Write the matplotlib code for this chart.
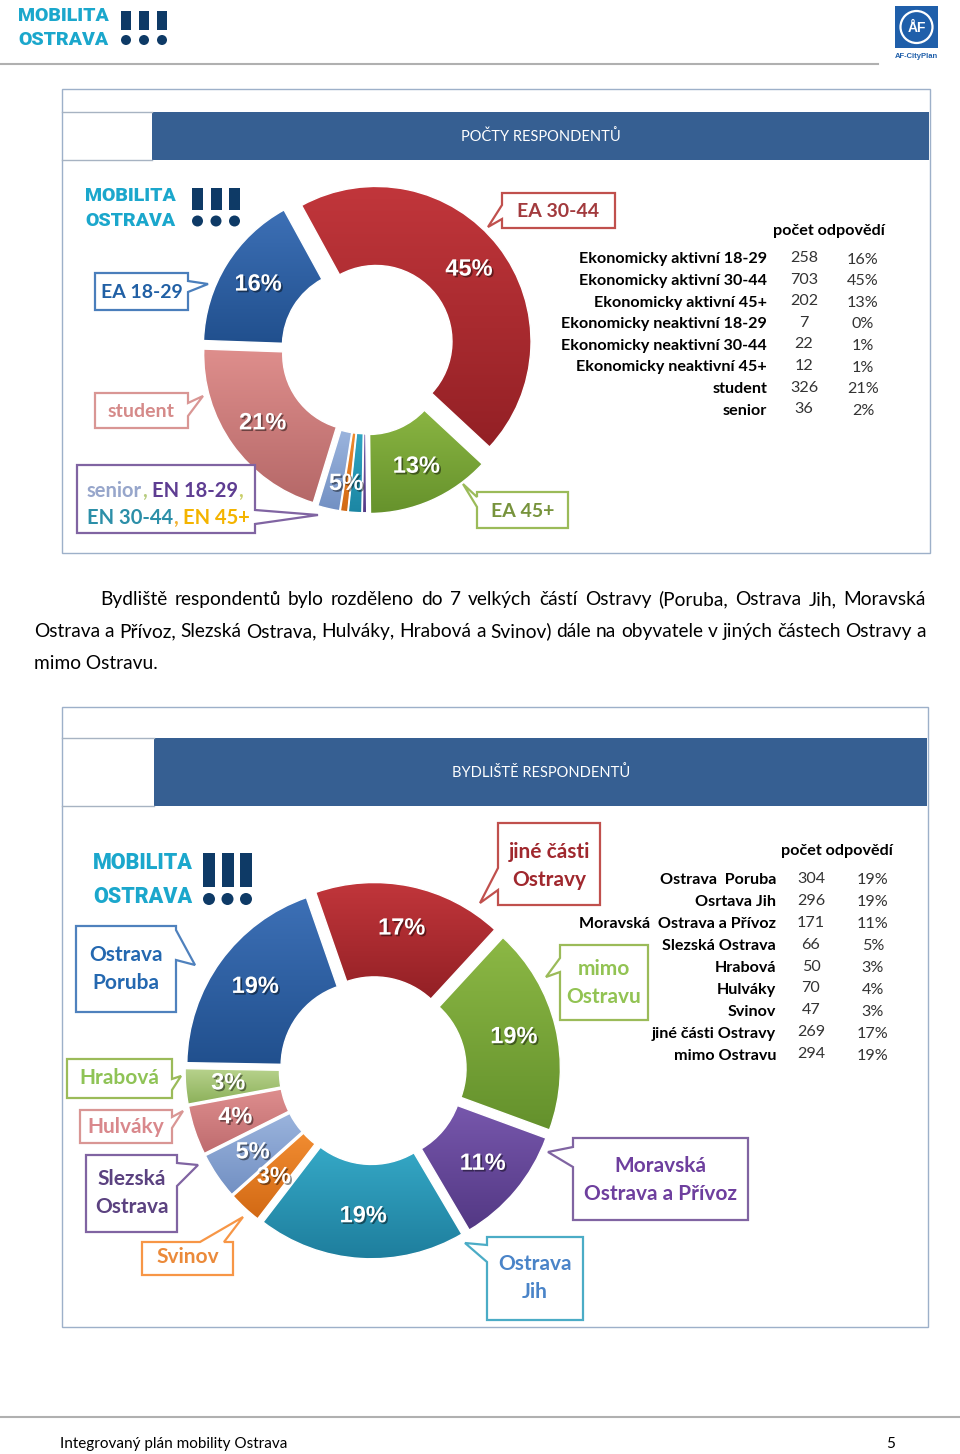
import matplotlib
matplotlib.use("Agg")
import matplotlib.pyplot as plt
import matplotlib.patheffects as pe
from matplotlib.patches import Rectangle, Polygon, Circle
from matplotlib.colors import LinearSegmentedColormap
import numpy as np

# ---------------- data: POČTY RESPONDENTŮ ----------------
resp_labels = ['Ekonomicky aktivní 18-29', 'Ekonomicky aktivní 30-44', 'Ekonomicky aktivní 45+',
               'Ekonomicky neaktivní 18-29', 'Ekonomicky neaktivní 30-44', 'Ekonomicky neaktivní 45+',
               'student', 'senior']
resp_counts = [258, 703, 202, 7, 22, 12, 326, 36]
resp_pct = ['16%', '45%', '13%', '0%', '1%', '1%', '21%', '2%']
resp_order = [0, 1, 2, 3, 4, 5, 7, 6]      # clockwise order in the ring
resp_ring = [0, 1, 2, 6]                   # slices with their own label
resp_small = [3, 4, 5, 7]                  # labelled together
resp_small_pct = '5%'

# ---------------- data: BYDLIŠTĚ RESPONDENTŮ ----------------
home_labels = ['Ostrava  Poruba', 'Osrtava Jih', 'Moravská  Ostrava a Přívoz', 'Slezská Ostrava',
               'Hrabová', 'Hulváky', 'Svinov', 'jiné části Ostravy', 'mimo Ostravu']
home_counts = [304, 296, 171, 66, 50, 70, 47, 269, 294]
home_pct = ['19%', '19%', '11%', '5%', '3%', '4%', '3%', '17%', '19%']
home_order = [0, 7, 8, 2, 1, 6, 3, 5, 4]

# slice colours (top, bottom of gradient)
resp_colors = [('#3D70B6', '#21508E'), ('#C1363B', '#932025'), ('#8AB542', '#66922C'),
               ('#7159A8', '#553C88'), ('#30A5C2', '#1C86A3'), ('#EF8B2F', '#D26914'),
               ('#DE8E8C', '#B56868'), ('#9BB4DD', '#7290C3')]
home_colors = [('#3D70B6', '#21508E'), ('#35A8C6', '#1E7E9D'), ('#7757AC', '#533884'),
               ('#9BB4DD', '#7290C3'), ('#B8D38D', '#8CB05A'), ('#DE8E8E', '#BF6C6F'),
               ('#F18C31', '#D26914'), ('#C1363B', '#932025'), ('#8CB845', '#64912C')]

W, H = 960, 1454
fig = plt.figure(figsize=(W / 100, H / 100), dpi=100)
fig.patch.set_facecolor('white')

bg = fig.add_axes([0, 0, 1, 1], zorder=0)
bg.set_xlim(0, W); bg.set_ylim(H, 0); bg.axis('off')
ov = fig.add_axes([0, 0, 1, 1], zorder=5)
ov.set_xlim(0, W); ov.set_ylim(H, 0); ov.axis('off'); ov.patch.set_alpha(0)

renderer = fig.canvas.get_renderer()
CAL = 'Lato'
ARIAL = 'Liberation Sans'
shadow = [pe.SimplePatchShadow(offset=(1.2, -1.2), shadow_rgbFace='black', alpha=0.45), pe.Normal()]


def logo(x, y1, y2, fs, bx, bw, bstep, by0, by1, r, dy):
    for s, yy in (('MOBILITA', y1), ('OSTRAVA', y2)):
        bg.text(x, yy, s, fontsize=fs, fontweight='black', family='Roboto', color='#1BA7CC',
                va='center', ha='left')
    for k in range(3):
        bg.add_patch(Rectangle((bx + k * bstep, by0), bw, by1 - by0, color='#0E3A66', lw=0))
        bg.add_patch(Circle((bx + k * bstep + bw / 2, dy), r, color='#0E3A66', lw=0))


def donut(cx, cy, R, counts, order, colors, explode, start, width, lim=1.35):
    ax = fig.add_axes([(cx - lim * R) / W, (H - cy - lim * R) / H, 2 * lim * R / W, 2 * lim * R / H],
                      zorder=2)
    wedges, _ = ax.pie([counts[i] for i in order], startangle=start, counterclock=False,
                       explode=[explode[i] for i in order],
                       wedgeprops=dict(width=width, edgecolor='white', linewidth=1.0))
    for w, i in zip(wedges, order):
        top, bot = colors[i]
        bb = w.get_path().get_extents()
        cmap = LinearSegmentedColormap.from_list('g', [top, bot])
        im = ax.imshow(np.linspace(0, 1, 200).reshape(-1, 1), extent=[bb.x0, bb.x1, bb.y0, bb.y1],
                       origin='upper', cmap=cmap, aspect='auto', zorder=0.5)
        im.set_clip_path(w)
        w.set_facecolor('none')
        w.set_zorder(1)
    ax.set_xlim(-lim, lim); ax.set_ylim(-lim, lim); ax.axis('off')
    return ax, dict(zip(order, wedges))


def ring_label(ax, ws, text, d, fs):
    t1 = min(w.theta1 for w in ws)
    t2 = max(w.theta2 for w in ws)
    a = np.deg2rad((t1 + t2) / 2)
    c = np.mean([w.center for w in ws], axis=0)
    ax.text(c[0] + d * np.cos(a), c[1] + d * np.sin(a), text, ha='center', va='center',
            fontsize=fs, fontweight='bold', family=ARIAL, color='white', path_effects=shadow, zorder=3)


def callout(rect, side, a, b, tip, ec, lines=None, tc=None, ys=None, fs=13.5):
    x0, y0, x1, y1 = rect
    tx, ty = tip
    if side == 'left':
        pts = [(x0, y0), (x1, y0), (x1, y1), (x0, y1), (x0, b), (tx, ty), (x0, a)]
    elif side == 'right':
        pts = [(x0, y0), (x1, y0), (x1, a), (tx, ty), (x1, b), (x1, y1), (x0, y1)]
    else:
        pts = [(x0, y0), (a, y0), (tx, ty), (b, y0), (x1, y0), (x1, y1), (x0, y1)]
    ov.add_patch(Polygon(pts, closed=True, fc='white', ec=ec, lw=1.6, joinstyle='miter'))
    if lines:
        for s, yy in zip(lines, ys):
            ov.text((x0 + x1) / 2, yy + 6, s, ha='center', va='baseline', fontsize=fs,
                    fontweight='bold', family=CAL, color=tc)


def colored_line(x, y, segs, fs):
    for s, c, gap in segs:
        t = ov.text(x, y + 6, s, ha='left', va='baseline', fontsize=fs, fontweight='bold', family=CAL, color=c)
        x += t.get_window_extent(renderer).width + gap


def justify(x0, x1, y, line, fs):
    words = line.split()
    ts = [bg.text(0, y, w_, fontsize=fs, family=CAL, color='black', va='baseline') for w_ in words]
    widths = [t.get_window_extent(renderer).width for t in ts]
    gap = (x1 - x0 - sum(widths)) / (len(words) - 1)
    x = x0
    for t, wd in zip(ts, widths):
        t.set_x(x)
        x += wd + gap


def table(header_x, header_y, lab_x, num_x, pct_x, y0, step, labels, counts, pcts, fs):
    bg.text(header_x, header_y + 5.5, 'počet odpovědí', ha='center', va='baseline', fontsize=fs,
            fontweight='bold', family=CAL, color='black')
    for k, (lab, n, p) in enumerate(zip(labels, counts, pcts)):
        yy = y0 + k * step + 5.5
        bg.text(lab_x, yy, lab, ha='right', va='baseline', fontsize=fs, fontweight='bold',
                family=CAL, color='black')
        bg.text(num_x, yy - 1.5, str(n), ha='center', va='baseline', fontsize=fs, family=CAL, color='#333333')
        bg.text(pct_x, yy, p, ha='center', va='baseline', fontsize=fs, family=CAL, color='#333333')


# ---------------- page header / footer ----------------
logo(18, 16, 40, 14, 121, 10, 18, 11, 30, 5, 40)
bg.plot([0, 878], [64, 64], color='#B0B0B0', lw=1.5)
bg.add_patch(Rectangle((895, 6), 43, 42, color='#1F5FAA', lw=0))
bg.add_patch(Circle((916.5, 27), 16, fc='none', ec='white', lw=1.6))
bg.text(916.5, 28, 'ÅF', ha='center', va='center', color='white', fontsize=10, fontweight='bold', family=ARIAL)
bg.text(916.5, 56, 'AF-CityPlan', ha='center', va='center', color='#1F5FAA', fontsize=5.5,
        fontweight='bold', family=ARIAL)
bg.plot([0, 960], [1417, 1417], color='#B0B0B0', lw=1.5)
bg.text(60, 1448, 'Integrovaný plán mobility Ostrava', fontsize=11, family=CAL, va='baseline')
bg.text(886, 1448, '5', fontsize=11, family=CAL, va='baseline')

# ---------------- chart frames ----------------
for (fx0, fy0, fx1, fy1), (bx0, by0, by1), title in (
        ((62, 89, 930, 553), (152, 112, 160), 'POČTY RESPONDENTŮ'),
        ((62, 707, 928, 1327), (154, 738, 806), 'BYDLIŠTĚ RESPONDENTŮ')):
    bg.add_patch(Rectangle((fx0, fy0), fx1 - fx0, fy1 - fy0, fc='white', ec='#9DB0C9', lw=1.0))
    bg.add_patch(Rectangle((bx0, by0), fx1 - bx0 - 1, by1 - by0, color='#365F92', lw=0))
    bg.plot([fx0, bx0], [by0, by0], color='#A7B3C2', lw=1.0)
    bg.plot([fx0, bx0], [by1, by1], color='#A7B3C2', lw=1.0)
    bg.text((bx0 + fx1) / 2, (by0 + by1) / 2 + 5, title, ha='center', va='baseline', color='white',
            fontsize=10.5, family=CAL)

# ---------------- paragraph ----------------
justify(100, 926, 605, 'Bydliště respondentů bylo rozděleno do 7 velkých částí Ostravy (Poruba, Ostrava Jih, Moravská', 13.8)
justify(34, 926, 637, 'Ostrava a Přívoz, Slezská Ostrava, Hulváky, Hrabová a Svinov) dále na obyvatele v jiných částech Ostravy a', 13.8)
bg.text(34, 669, 'mimo Ostravu.', fontsize=13.8, family=CAL, va='baseline')

# ---------------- chart 1 ----------------
logo(85, 196, 221, 14, 192, 11, 18.5, 188, 210, 5.5, 221)
resp_explode = [0.05, 0.09, 0.06, 0.05, 0.05, 0.05, 0.05, 0.05]
ax1, w1 = donut(365, 350, 155, resp_counts, resp_order, resp_colors, resp_explode, -182, 0.51)
for i in resp_ring:
    ring_label(ax1, [w1[i]], resp_pct[i], 0.76, 17)
ring_label(ax1, [w1[i] for i in resp_small], resp_small_pct, 0.82, 17)

callout((95, 273, 188, 310), 'right', 281, 292, (208, 284), '#4A7EBB', ['EA 18-29'], '#2160A5', [292], 14)
callout((95, 393, 188, 428), 'right', 403, 416, (203, 396), '#D99694', ['student'], '#D58A89', [411], 14)
callout((502, 193, 615, 228), 'left', 205, 219, (488, 227), '#C0504D', ['EA 30-44'], '#A23A3D', [211], 14)
callout((477, 492, 568, 528), 'left', 497, 507, (463, 484), '#9BBB59', ['EA 45+'], '#77933C', [511], 14)
callout((77, 465, 255, 533), 'right', 510, 524, (318, 515), '#8064A2')
colored_line(87, 491, [('senior', '#97A6CB', 0), (',', '#B7CC7E', 5), ('EN 18-29', '#5E3D92', 0),
                       (',', '#C9CF6A', 0)], 14.5)
colored_line(87, 518, [('EN 30-44', '#2C8FA8', 0), (',', '#F2B233', 5), ('EN 45+', '#F4B400', 0)], 14.5)

table(829, 229, 767, 804, 863, 258, 21.6, resp_labels, resp_counts, resp_pct, 11.6)

# ---------------- chart 2 ----------------
logo(93, 863, 897, 15.5, 203, 12, 18.5, 853, 887, 6, 899)
home_explode = [0.05, 0.055, 0.05, 0.05, 0.05, 0.05, 0.05, 0.06, 0.06]
ax2, w2 = donut(372, 1071, 178, home_counts, home_order, home_colors, home_explode, -181, 0.53)
for i in home_order:
    ring_label(ax2, [w2[i]], home_pct[i], 0.76, 17)

callout((498, 823, 600, 905), 'left', 868, 890, (480, 903), '#C0504D', ['jiné části', 'Ostravy'], '#A0282E', [852, 880], 15)
callout((560, 945, 648, 1020), 'left', 958, 972, (546, 977), '#9BBB59', ['mimo', 'Ostravu'], '#92C353', [969, 997], 15)
callout((76, 926, 176, 1012), 'right', 930, 960, (195, 965), '#4F81BD', ['Ostrava', 'Poruba'], '#2468B0', [955, 983], 15)
callout((67, 1059, 172, 1098), 'right', 1079, 1090, (181, 1076), '#9BBB59', ['Hrabová'], '#8FC356', [1078], 15)
callout((80, 1110, 172, 1143), 'right', 1117, 1128, (183, 1111), '#D99694', ['Hulváky'], '#D9888C', [1127], 15)
callout((86, 1155, 177, 1232), 'right', 1163, 1186, (198, 1165), '#8064A2', ['Slezská', 'Ostrava'], '#5B4280', [1179, 1207], 15)
callout((142, 1242, 233, 1275), 'top', 200, 224, (243, 1217), '#F79646', ['Svinov'], '#EB8A3A', [1257], 15)
callout((487, 1237, 583, 1320), 'left', 1245, 1262, (465, 1243), '#4BACC6', ['Ostrava', 'Jih'], '#4A84C8', [1264, 1292], 15)
callout((573, 1138, 748, 1220), 'left', 1147, 1167, (548, 1152), '#8064A2', ['Moravská', 'Ostrava a Přívoz'], '#6E3F9E', [1166, 1194], 15)

table(837, 849, 776, 811, 873, 879, 21.9, home_labels, home_counts, home_pct, 11.6)

fig.savefig('out.png', dpi=100)
